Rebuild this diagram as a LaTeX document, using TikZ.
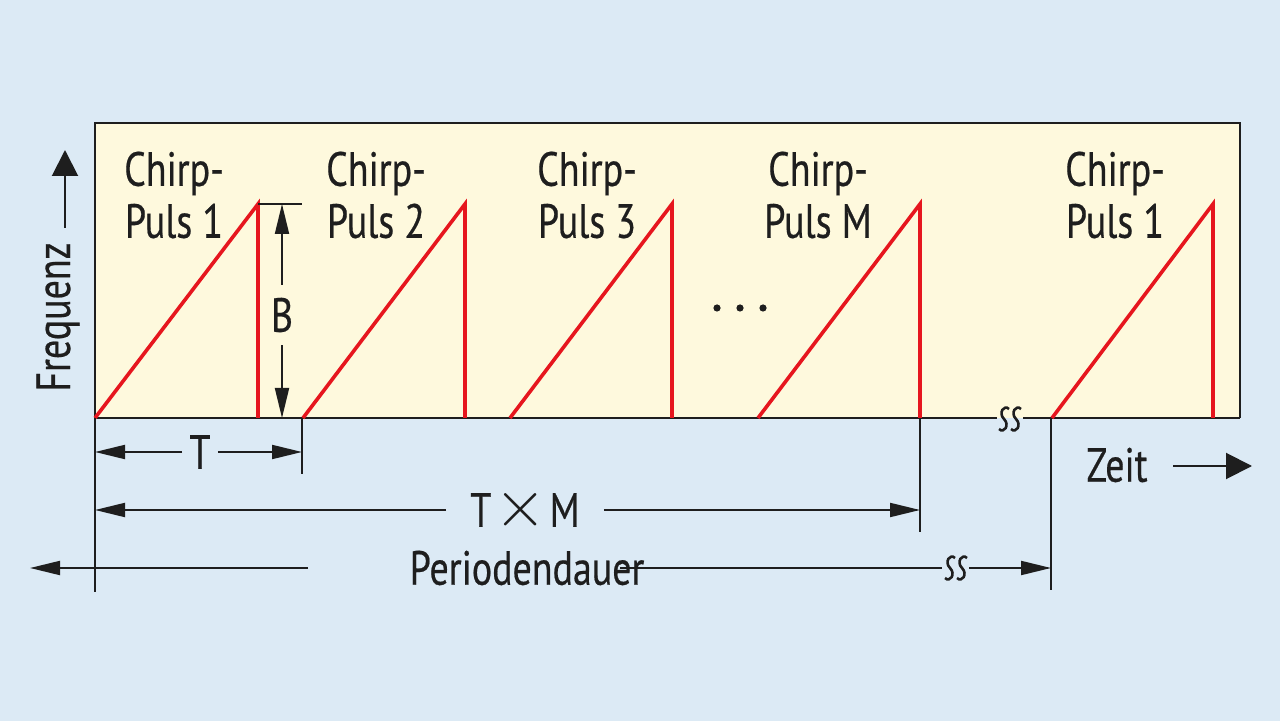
\documentclass[tikz,border=0pt]{standalone}
\usepackage{fontspec}
\setmainfont{PT Sans}[FakeStretch=0.79,FakeBold=0.4]
\usetikzlibrary{arrows.meta}
\definecolor{bgblue}{RGB}{220,234,245}
\definecolor{boxyellow}{RGB}{254,249,221}
\definecolor{chirpred}{RGB}{230,22,30}
\definecolor{ink}{RGB}{30,30,30}
\tikzset{
  dimtip/.tip={Triangle[length=15pt,width=7pt]},
  axistip/.tip={Triangle[length=13pt,width=13pt]},
  frame/.style={draw=ink,line width=1pt},
  chirp/.style={draw=chirpred,line width=1.8pt,line join=miter},
  dimline/.style={frame,-dimtip},
  axisline/.style={frame,-axistip},
  lbl/.style={inner sep=0pt,align=center,text=ink,font=\fontsize{24}{26}\selectfont},
}
\newcommand\gapmark[2]{\draw[draw=ink,line width=1.3pt,shift={(#1,#2)}] (5,-10) .. controls (0,-15) and (-6,-6) .. (0,0) .. controls (6,6) and (0,15) .. (-5,10);}
\begin{document}
\begin{tikzpicture}[x=0.5pt,y=-0.5pt]
\fill[bgblue] (0,0) rectangle (1280,721);
\useasboundingbox (0,0) rectangle (1280,721);
% plot box
\fill[boxyellow] (95,123) rectangle (1240,418);
\draw[frame] (95,418) -- (95,123) -- (1240,123) -- (1240,418);
\draw[frame] (95,418) -- (997,418);
\draw[frame] (1023,418) -- (1240,418);
\gapmark{1004}{419}
\gapmark{1016}{419}
% chirps
\draw[chirp] (95,418) -- (258,204) -- (258,418);
\draw[chirp] (303,418) -- (465,204) -- (465,418);
\draw[chirp] (510,418) -- (672,204) -- (672,418);
\draw[chirp] (758,418) -- (920,204) -- (920,418);
\draw[chirp] (1052,418) -- (1213,204) -- (1213,418);
% labels
\node[lbl] (c1) at (174,195) {Chirp-\\Puls 1};
\node[lbl] (c2) at (376,195) {Chirp-\\Puls 2};
\node[lbl] (c3) at (587,195) {Chirp-\\Puls 3};
\node[lbl] (cM) at (818,195) {Chirp-\\Puls M};
\node[lbl] (c5) at (1115,195) {Chirp-\\Puls 1};
\foreach \dx in {717,740,763} \fill[ink] (\dx,308) circle (1.8pt);
% B dimension
\draw[frame] (258,204) -- (302,204);
\coordinate (Btop) at (282,204);
\coordinate (Bbot) at (282,418);
\node[lbl,minimum height=30pt] (B) at (282,315) {B};
\draw[dimline] (B.north) -- (Btop);
\draw[dimline] (B.south) -- (Bbot);
% extension lines
\draw[frame] (95,418) -- (95,592);
\draw[frame] (302,418) -- (302,474);
\draw[frame] (920,418) -- (920,532);
\draw[frame] (1051,418) -- (1051,590);
% T dimension
\coordinate (Tl) at (95,452);
\coordinate (Tr) at (302,452);
\node[lbl,minimum width=17.5pt] (T) at (200,452) {T};
\draw[dimline] (T.west) -- (Tl);
\draw[dimline] (T.east) -- (Tr);
% T x M dimension
\coordinate (TMl) at (95,510);
\coordinate (TMr) at (920,510);
\node[lbl,minimum width=78.5pt] (TM) at (525,510) {T\kern1.5pt\scalebox{1.35}{$\times$}\kern1.5pt M};
\draw[dimline] (TM.west) -- (TMl);
\draw[dimline] (TM.east) -- (TMr);
% Periodendauer
\node[lbl] (P) at (527,568) {Periodendauer};
\coordinate (Pa) at (308,568);
\coordinate (Pl) at (30,568);
\coordinate (Pb) at (620,568);
\coordinate (Pc) at (942,568);
\coordinate (Pd) at (969,568);
\coordinate (Pr) at (1051,568);
\draw[dimline] (Pa) -- (Pl);
\draw[frame] (Pb) -- (Pc);
\gapmark{950}{568}
\gapmark{962}{568}
\draw[dimline] (Pd) -- (Pr);
% axes
\node[lbl,rotate=90] (freq) at (58,317) {Frequenz};
\coordinate (fa) at (65,228);
\coordinate (fb) at (65,150);
\draw[axisline] (fa) -- (fb);
\node[lbl] (zeit) at (1117,465) {Zeit};
\coordinate (za) at (1173,466);
\coordinate (zb) at (1252,466);
\draw[axisline] (za) -- (zb);
\end{tikzpicture}
\end{document}
